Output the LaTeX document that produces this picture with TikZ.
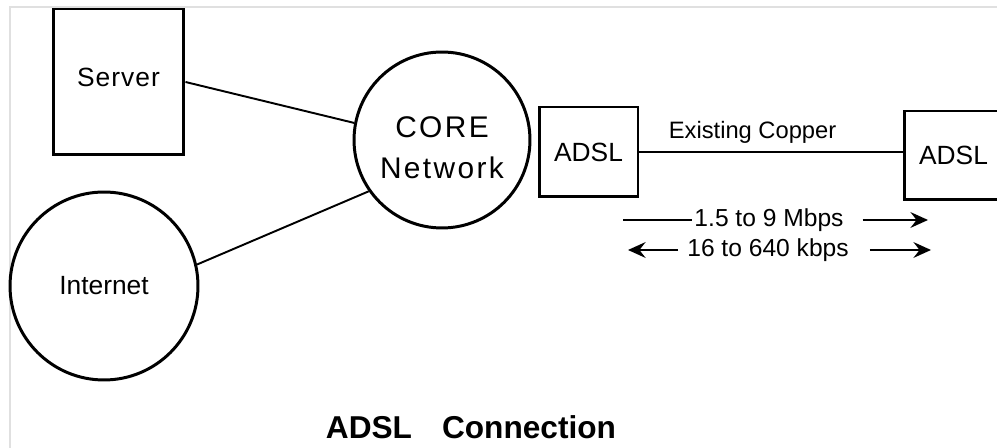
\documentclass[tikz,border=0pt]{standalone}
\usepackage{fontspec}
\setmainfont{Liberation Sans}
\usetikzlibrary{arrows.meta,positioning}

\begin{document}
\begin{tikzpicture}[x=0.02cm,y=-0.02cm,>={Stealth[length=10pt,width=9pt,inset=3.5pt]},
   font=\fontsize{15}{18}\selectfont,
   unit/.style={draw,line width=1.7pt,inner sep=0pt,align=center},
   net/.style={draw,circle,line width=1.7pt,inner sep=0pt,align=center},
   link/.style={line width=1.1pt},
   rate/.style={font=\fontsize{14}{16}\selectfont,inner sep=1pt}]
  \useasboundingbox (0,0) rectangle (997,448);
  % faint frame of the original figure
  \draw[black!12,line width=0.6pt] (10,448) |- (997,7);
  \node[unit,minimum width=2.62cm,minimum height=2.92cm,text depth=0.2cm] (server) at (118.5,82)
    {\addfontfeatures{LetterSpace=4}Server};
  \node[net,minimum size=3.52cm,font=\fontsize{17}{23}\selectfont\addfontfeatures{LetterSpace=8}] (core) at (442,140)
    {\rule{0pt}{0.72cm}CORE\\Network};
  \node[net,minimum size=3.76cm] (inet) at (104,286) {Internet};
  \node[unit,minimum width=1.98cm,minimum height=1.8cm] (adslA) at (588.5,152) {ADSL};
  \node[unit,minimum width=1.98cm,minimum height=1.78cm] (adslB) at (953.5,155.5) {ADSL};
  % links into the core
  \draw[link] (server.east) -- (core.169);
  \draw[link] (inet.13) -- (core.215);
  % the local loop
  \draw[link] (adslA.east) -- node[above=1pt,pos=0.43,font=\fontsize{13.5}{16}\selectfont]{Existing Copper}
    (adslA.east -| adslB.west);
  % line rates, downstream then upstream
  \node[rate] (down) at (769,220) {1.5 to 9 Mbps};
  \coordinate (downL) at (623,220);
  \coordinate (downR) at (928,220);
  \draw[link] (downL) -- (down.west);
  \draw[link,->] ([xshift=0.34cm]down.east) -- (downR);
  \node[rate] (up) at (768,250) {16 to 640 kbps};
  \coordinate (upL) at (628,250);
  \coordinate (upR) at (931,250);
  \draw[link,->] ([xshift=-0.14cm]up.west) -- (upL);
  \draw[link,->] ([xshift=0.38cm]up.east) -- (upR);
  \node[font=\bfseries\fontsize{18}{20}\selectfont] (title) at (471,427) {ADSL\hspace{0.95em}Connection};
\end{tikzpicture}
\end{document}
